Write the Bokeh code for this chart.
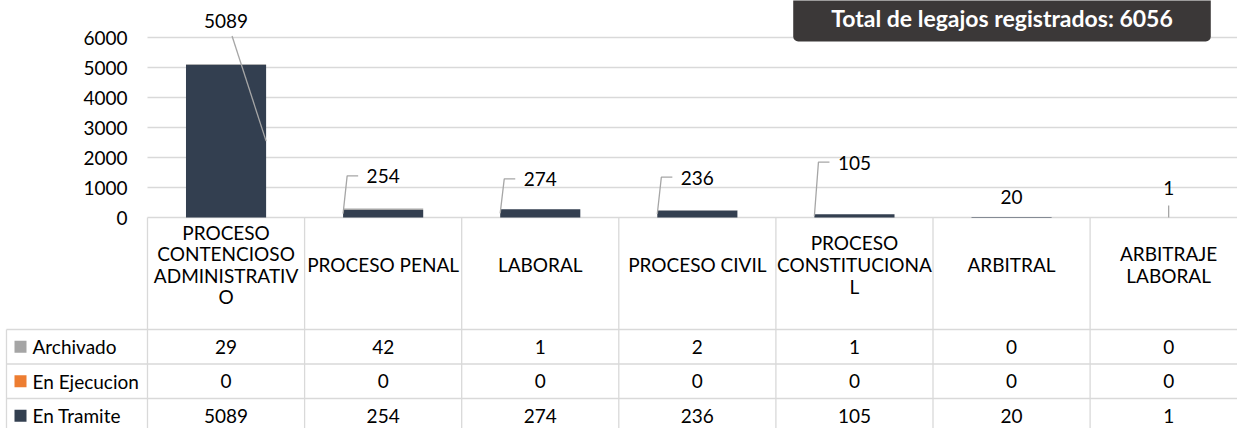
from bokeh.plotting import figure
from bokeh.models import Range1d, FixedTicker, Label
from bokeh.embed import file_html
from bokeh.resources import INLINE
from bokeh.core.properties import value

# ---------------- data ----------------
categories = [
    "PROCESO\nCONTENCIOSO\nADMINISTRATIV\nO",
    "PROCESO PENAL",
    "LABORAL",
    "PROCESO CIVIL",
    "PROCESO\nCONSTITUCIONA\nL",
    "ARBITRAL",
    "ARBITRAJE\nLABORAL",
]
series_names = ["Archivado", "En Ejecucion", "En Tramite"]
archivado = [29, 42, 1, 2, 1, 0, 0]
en_ejecucion = [0, 0, 0, 0, 0, 0, 0]
en_tramite = [5089, 254, 274, 236, 105, 20, 1]
y_ticks = [0, 1000, 2000, 3000, 4000, 5000, 6000]
total_text = "Total de legajos registrados: 6056"

# ---------------- style / layout ----------------
series_colors = ["#A5A5A5", "#ED7D31", "#333F50"]
FONT = "Lato"
FS = "19px"
TXT = "#000000"
GRID = "#D9D9D9"
LEADER = "#A6A6A6"
W, H = 1237, 428
LEFT = 147          # px from canvas left to first category column
ZERO = 217          # px from canvas top to value 0
COL = 157.1         # px per category
YPX = 0.03          # px per value unit
HDR_PX = 112        # header row height (px)
ROW_PX = 34.5       # table row height (px)
LEG_PX = 6          # left border of table (px)
BAR_W = 0.51
label_heights = [6550, 1370, 1270, 1330, 1830, 700, 970]
leader_kind = ["right", "left", "left", "left", "left", None, "down"]

n = len(categories)
xs = [i + 0.5 for i in range(n)]
px_x = 1.0 / COL
px_y = 1.0 / YPX
x_start = -LEFT * px_x
x_end = (W - LEFT) * px_x
y_end = ZERO * px_y
y_start = -(H - ZERO) * px_y

p = figure(width=W, height=H, x_range=Range1d(x_start, x_end), y_range=Range1d(y_start, y_end),
           output_backend="svg", toolbar_location=None, x_axis_location=None,
           y_axis_location="left", min_border=0)
p.outline_line_color = None
p.background_fill_color = "white"
p.border_fill_color = "white"
p.xgrid.visible = False
p.ygrid.visible = False

ax = p.yaxis[0]
ax.fixed_location = 0
ax.ticker = FixedTicker(ticks=y_ticks)
ax.axis_line_color = None
ax.major_tick_line_color = None
ax.minor_tick_line_color = None
ax.major_tick_out = 0
ax.major_tick_in = 0
ax.major_label_standoff = 20
ax.major_label_text_font = FONT
ax.major_label_text_font_size = FS
ax.major_label_text_color = TXT

# value grid lines (only over the plot columns)
p.segment(x0=[0] * len(y_ticks), y0=y_ticks, x1=[x_end] * len(y_ticks), y1=y_ticks,
          line_color=GRID, line_width=1.3)

# stacked bars
p.vbar_stack(["tramite", "ejecucion", "archivado"], x="x", width=BAR_W,
             source=dict(x=xs, tramite=en_tramite, ejecucion=en_ejecucion, archivado=archivado),
             fill_color=[series_colors[2], series_colors[1], series_colors[0]], line_color=None)

# leader lines
lx, ly = [], []
for i, v in enumerate(en_tramite):
    k = leader_kind[i]
    cx = xs[i]
    h = label_heights[i]
    if k == "right":
        lx.append([cx + 6 * px_x, cx + BAR_W / 2])
        ly.append([h - 15 * px_y, v / 2])
    elif k == "left":
        lx.append([cx - 25 * px_x, cx - 36 * px_x, cx - BAR_W / 2])
        ly.append([h + 0.5 * px_y, h + 0.5 * px_y, v / 2])
    elif k == "down":
        lx.append([cx, cx])
        ly.append([h - 17 * px_y, v / 2])
p.multi_line(lx, ly, line_color=LEADER, line_width=1.3)

p.text(x=xs, y=label_heights, text=[str(v) for v in en_tramite],
       text_font=value(FONT), text_font_size=FS, text_color=TXT,
       text_align="center", text_baseline="middle")

# total box
box = Label(x=(1001.5 - LEFT) * px_x, y=(ZERO - 41) * px_y, text=total_text,
            text_font=FONT, text_font_style="bold", text_font_size="23px", text_color="white",
            text_align="center", text_baseline="bottom",
            background_fill_color="#3B3838", background_fill_alpha=1.0,
            padding=dict(left=38, right=38, top=20, bottom=10),
            border_radius=dict(top_left=0, top_right=0, bottom_right=5, bottom_left=5))
p.add_layout(box)

# ---------------- data table ----------------
LB = -(LEFT - LEG_PX) * px_x
row_tops = [-(HDR_PX + j * ROW_PX) * px_y for j in range(len(series_names))]
p.segment(x0=[LB] * len(row_tops), y0=row_tops, x1=[x_end + 1] * len(row_tops), y1=row_tops,
          line_color=GRID, line_width=1.3)
vx = list(range(n + 1))
p.segment(x0=vx, y0=[0] * len(vx), x1=vx, y1=[y_start - 10] * len(vx), line_color=GRID, line_width=1.3)
p.segment(x0=[LB], y0=[row_tops[0]], x1=[LB], y1=[y_start - 10], line_color=GRID, line_width=1.3)

p.text(x=xs, y=[-47 * px_y] * n, text=categories, text_font=value(FONT), text_font_size=FS,
       text_color=TXT, text_align="center", text_baseline="middle", text_line_height=0.94)

rows = [archivado, en_ejecucion, en_tramite]
for j, name in enumerate(series_names):
    yc = row_tops[j] - ROW_PX / 2 * px_y
    p.scatter(x=[-(LEFT - 20) * px_x], y=[yc], marker="square", size=12,
              fill_color=series_colors[j], line_color=None)
    p.text(x=[-(LEFT - 32) * px_x], y=[yc], text=[name], text_font=value(FONT), text_font_size=FS,
           text_color=TXT, text_align="left", text_baseline="middle")
    p.text(x=xs, y=[yc] * n, text=[str(v) for v in rows[j]], text_font=value(FONT),
           text_font_size=FS, text_color=TXT, text_align="center", text_baseline="middle")

open("out.html", "w").write(file_html(p, INLINE))
